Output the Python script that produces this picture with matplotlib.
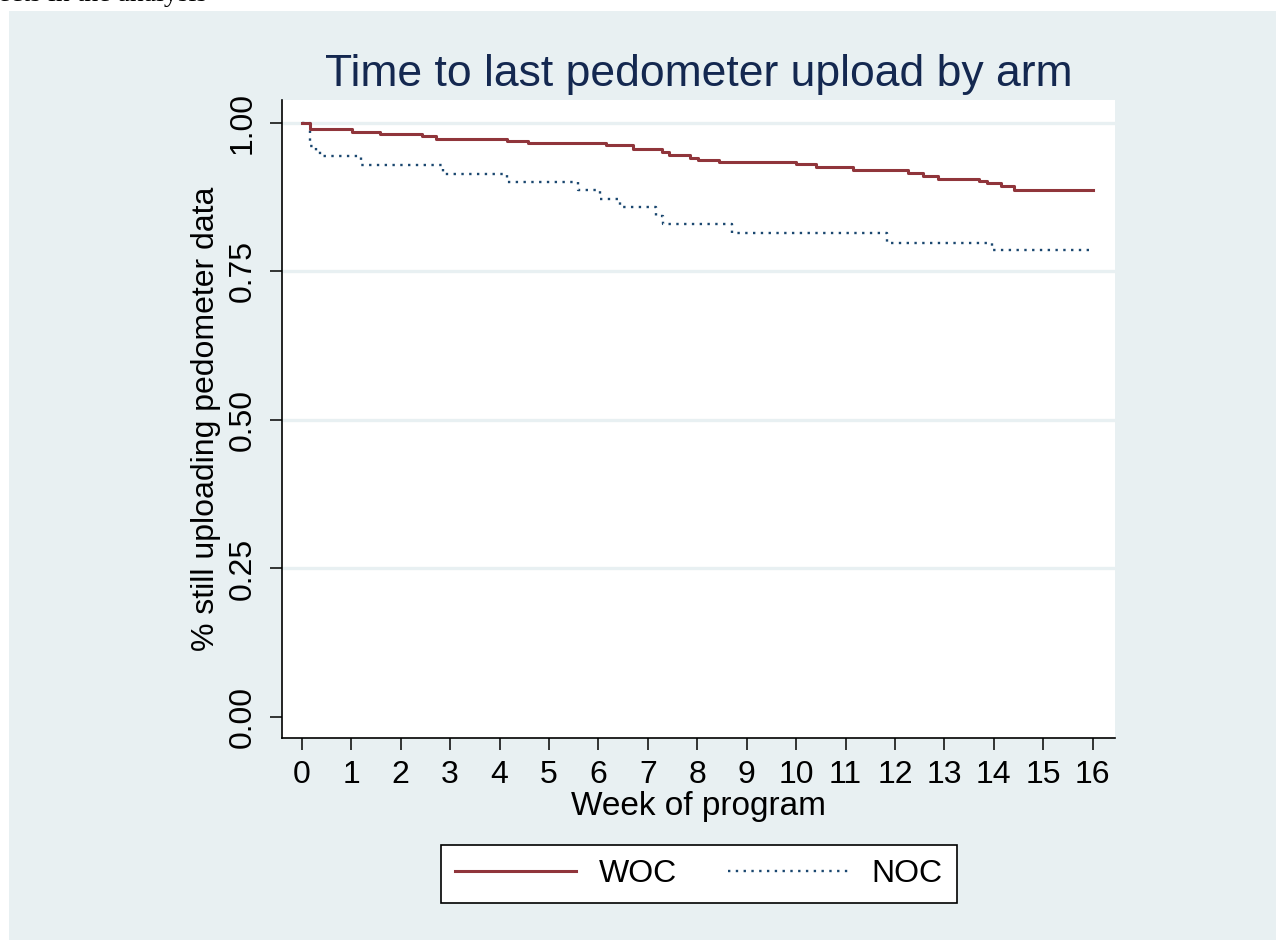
import matplotlib
matplotlib.use("Agg")
import matplotlib.pyplot as plt
from matplotlib.patches import Rectangle

# ---- data ----
woc_weeks = [0.0, 0.16, 1.02, 1.59, 2.44, 2.72, 4.15, 4.58, 6.16, 6.71, 7.29, 7.43,
             7.85, 8.01, 8.43, 9.99, 10.41, 11.15, 12.27, 12.56, 12.86, 13.70,
             13.86, 14.14, 14.40, 16.0]
woc_surv = [1.000, 0.990, 0.985, 0.981, 0.978, 0.973, 0.970, 0.966, 0.963, 0.955, 0.950,
            0.945, 0.941, 0.937, 0.934, 0.930, 0.926, 0.921, 0.915, 0.911, 0.906,
            0.902, 0.899, 0.894, 0.886, 0.886]

noc_weeks = [0.0, 0.17, 0.28, 0.36, 1.19, 2.85, 4.15, 5.59, 6.03, 6.43, 7.17, 7.30,
             8.70, 11.84, 13.96, 16.0]
noc_surv = [1.000, 0.960, 0.952, 0.944, 0.929, 0.914, 0.901, 0.886, 0.872, 0.858,
            0.843, 0.829, 0.814, 0.798, 0.786, 0.786]

x_ticks = list(range(0, 17))
y_ticks = [0.00, 0.25, 0.50, 0.75, 1.00]
y_tick_labels = ["0.00", "0.25", "0.50", "0.75", "1.00"]
grid_levels = [0.25, 0.50, 0.75, 1.00]

title = "Time to last pedometer upload by arm"
xlabel = "Week of program"
ylabel = "% still uploading pedometer data"
labels = ["WOC", "NOC"]

# ---- style ----
BG = "#E8F0F2"
RED = "#90353B"
NAVY = "#1A476F"
TITLE_C = "#142850"

plt.rcParams["font.family"] = ["Liberation Sans", "DejaVu Sans"]

W, H = 1282, 940
fig = plt.figure(figsize=(W / 100, H / 100), dpi=100)
fig.patch.set_facecolor("white")

# outer light bluish-gray region
bg = Rectangle((9 / W, 0), (1276 - 9) / W, 1 - 11 / H,
               transform=fig.transFigure, facecolor=BG,
               edgecolor="none", zorder=-10)
fig.patches.append(bg)

# partially visible caption text at the very top (cut off in the reference)
fig.text(-2 / W, 1 - 1 / H, "ects in the analysis", fontsize=20,
         family=["Liberation Serif", "DejaVu Serif"], va="baseline", ha="left",
         color="black", zorder=-5)

left, right = 282 / W, 1115 / W
bottom, top = 1 - 738 / H, 1 - 100 / H
ax = fig.add_axes([left, bottom, right - left, top - bottom])
ax.set_zorder(1)
ax.set_facecolor("white")

ax.set_xlim(-0.40, 16.45)
ax.set_ylim(-0.0353, 1.0382)

for g in grid_levels:
    ax.axhline(g, color=BG, lw=2.4, zorder=1)

l1, = ax.step(woc_weeks, woc_surv, where="post", color=RED, lw=2.2,
              zorder=3, label=labels[0])
l2, = ax.step(noc_weeks, noc_surv, where="post", color=NAVY, lw=1.7,
              linestyle=(0, (1, 2.3)), zorder=2, label=labels[1])

for s in ["top", "right"]:
    ax.spines[s].set_visible(False)
for s in ["left", "bottom"]:
    ax.spines[s].set_color("black")
    ax.spines[s].set_linewidth(1.2)

ax.set_xticks(x_ticks)
ax.set_xticklabels([str(t) for t in x_ticks])
ax.set_yticks(y_ticks)
ax.set_yticklabels(y_tick_labels, rotation=90, va="center")
ax.tick_params(axis="both", direction="out", length=8.5, width=1.1,
               color="black", labelsize=23)
ax.tick_params(axis="x", pad=7)
ax.tick_params(axis="y", pad=9)

ax.set_xlabel(xlabel, fontsize=24, labelpad=1)
ax.set_ylabel(ylabel, fontsize=23, labelpad=5)
ax.set_title(title, fontsize=32, color=TITLE_C, pad=10)

leg = fig.legend(handles=[l1, l2], labels=labels, loc="center",
                 bbox_to_anchor=((440 + 958) / 2 / W, 1 - 874 / H),
                 ncol=2, frameon=True, fancybox=False, fontsize=23,
                 handlelength=3.8, handletextpad=0.7, columnspacing=1.6,
                 borderpad=0.45, borderaxespad=0, framealpha=1)
leg.get_frame().set_edgecolor("black")
leg.get_frame().set_linewidth(1.2)
leg.get_frame().set_facecolor("white")
leg.set_zorder(2)

fig.savefig("out.png", dpi=100, facecolor=fig.get_facecolor())
